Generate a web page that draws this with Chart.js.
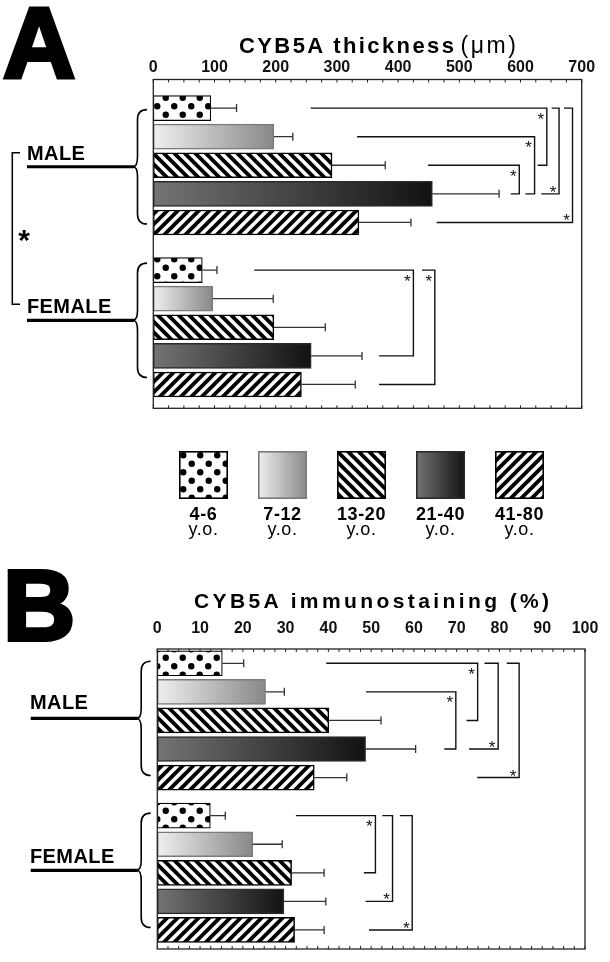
<!DOCTYPE html>
<html lang="en"><head><meta charset="utf-8"><title>CYB5A thickness and immunostaining</title>
<script src="https://cdn.jsdelivr.net/npm/chart.js@4.4.1/dist/chart.umd.min.js"></script>
<style>
html,body{margin:0;padding:0;background:#fff;}
#wrap{position:relative;width:610px;height:962px;overflow:hidden;background:#fff;}
#wrap canvas{position:absolute;left:0;}
#overlay{position:absolute;left:0;top:0;pointer-events:none;}
#overlay text{font-family:"Liberation Sans",Arial,Helvetica,sans-serif;fill:#000;}
</style></head>
<body><div id="wrap">
<canvas id="chartA" width="610" height="425" style="top:0"></canvas>
<canvas id="chartB" width="610" height="402" style="top:560px"></canvas>
<svg id="overlay" width="610" height="962" xmlns="http://www.w3.org/2000/svg">
 <text x="3" y="78" font-size="100" font-weight="bold" stroke="#000" stroke-width="4">A</text>
 <text x="3" y="640" font-size="100" font-weight="bold" stroke="#000" stroke-width="4">B</text>
 <text x="239" y="53" font-size="22" font-weight="bold" letter-spacing="2.4">CYB5A thickness<tspan dx="4" font-weight="normal" font-size="23" letter-spacing="2.6">(μm)</tspan></text>
 <text x="194" y="608" font-size="21" font-weight="bold" letter-spacing="3.4">CYB5A immunostaining (%)</text>
 <text x="24" y="250" font-size="30" font-weight="bold" text-anchor="middle">*</text>
 <g id="sexText"></g>
 <g id="legendText"></g>
</svg>
</div>
<script>
// ---------------- data ----------------
const ageGroups = ['4-6', '7-12', '13-20', '21-40', '41-80'];
const sexes = ['MALE', 'FEMALE'];

const thicknessMale      = [94, 197, 292, 456, 336];
const thicknessMaleErr   = [42, 31, 87, 109, 85];
const thicknessFemale    = [80, 97, 197, 258, 242];
const thicknessFemaleErr = [24, 99, 84, 83, 88];

const stainingMale      = [15.2, 25.3, 40.1, 48.7, 36.7];
const stainingMaleErr   = [5.0, 4.4, 12.2, 11.7, 7.6];
const stainingFemale    = [12.4, 22.3, 31.4, 29.6, 32.1];
const stainingFemaleErr = [3.5, 6.9, 7.6, 9.8, 6.9];

const thicknessTickLabels = ['0', '100', '200', '300', '400', '500', '600', '700'];
const stainingTickLabels  = ['0', '10', '20', '30', '40', '50', '60', '70', '80', '90', '100'];

// significance brackets (values in axis units)
const thicknessSig = [
  {sex: 'male', from: 0, to: 2, start: 257, end: 628, at: 643, star: 'top'},
  {sex: 'male', from: 1, to: 3, start: 333, end: 608, at: 623, star: 'top'},
  {sex: 'male', from: 2, to: 3, start: 449, end: 584, at: 598, star: 'top'},
  {sex: 'male', from: 0, to: 3, start: 651, end: 634, at: 663, star: 'bottom'},
  {sex: 'male', from: 0, to: 4, start: 671, end: 463, at: 685, star: 'bottom'},
  {sex: 'female', from: 0, to: 3, start: 165, end: 369, at: 425, star: 'top'},
  {sex: 'female', from: 0, to: 4, start: 439, end: 369, at: 460, star: 'top'}
];
const stainingSig = [
  {sex: 'male', from: 0, to: 2, start: 39.5, end: 72.3, at: 74.9, star: 'top'},
  {sex: 'male', from: 1, to: 3, start: 48.8, end: 67.1, at: 69.8, star: 'top'},
  {sex: 'male', from: 0, to: 3, start: 76.5, end: 72.9, at: 79.7, star: 'bottom'},
  {sex: 'male', from: 0, to: 4, start: 81.7, end: 74.8, at: 84.6, star: 'bottom'},
  {sex: 'female', from: 0, to: 2, start: 32.4, end: 48.3, at: 51.0, star: 'top'},
  {sex: 'female', from: 0, to: 3, start: 52.6, end: 48.7, at: 55.0, star: 'bottom'},
  {sex: 'female', from: 0, to: 4, start: 56.7, end: 49.5, at: 59.6, star: 'bottom'}
];

// ---------------- layout / style ----------------
const layoutA = {n: 69, male: [6, 12, 18, 24, 30], female: [40, 46, 52, 58, 64]};
const layoutB = {n: 63, male: [3, 9, 15, 21, 27], female: [35, 41, 47, 53, 59]};

const groupFill = ['dots', 'gradLight', 'stripeBack', 'gradDark', 'stripeFwd'];
const groupBorder = ['#000', '#7a7a7a', '#000', '#2a2a2a', '#000'];
const groupBorderWidth = [1.2, 1.5, 1.5, 1.5, 1.5];
const gradStops = {gradLight: ['#efefef', '#888888'], gradDark: ['#747474', '#121212']};

function makeTile(kind) {
  const c = document.createElement('canvas');
  const g = c.getContext('2d');
  if (kind === 'dots') {
    c.width = c.height = 17;
    g.fillStyle = '#fff'; g.fillRect(0, 0, 17, 17);
    g.fillStyle = '#000';
    [[4.25, 4.25], [12.75, 12.75]].forEach(([x, y]) => { g.beginPath(); g.arc(x, y, 3.2, 0, Math.PI * 2); g.fill(); });
  } else {
    const s = 21;
    c.width = c.height = s;
    g.fillStyle = '#fff'; g.fillRect(0, 0, s, s);
    g.strokeStyle = '#000'; g.lineWidth = 3.8; g.beginPath();
    for (let k = -2; k <= 2; k++) {
      const o = k * 10.5;
      if (kind === 'stripeBack') { g.moveTo(o - 2, -2); g.lineTo(o + s + 2, s + 2); }
      else { g.moveTo(o - 2, s + 2); g.lineTo(o + s + 2, -2); }
    }
    g.stroke();
  }
  return c;
}
const tiles = {dots: makeTile('dots'), stripeBack: makeTile('stripeBack'), stripeFwd: makeTile('stripeFwd')};

function fillFor(i, c) {
  const kind = groupFill[i];
  const chart = c.chart;
  if (tiles[kind]) {
    chart.$pat = chart.$pat || {};
    if (!chart.$pat[kind]) chart.$pat[kind] = chart.ctx.createPattern(tiles[kind], 'repeat');
    return chart.$pat[kind];
  }
  const xs = chart.scales && chart.scales.x;
  if (c.type !== 'data' || !xs || !c.parsed || c.parsed.x == null) return gradStops[kind][1];
  const x0 = xs.getPixelForValue(0), x1 = xs.getPixelForValue(c.parsed.x);
  const g = chart.ctx.createLinearGradient(x0, 0, x1, 0);
  g.addColorStop(0, gradStops[kind][0]);
  g.addColorStop(1, gradStops[kind][1]);
  return g;
}

function buildDatasets(male, maleErr, female, femaleErr, layout) {
  const len = layout.n + 1;
  return ageGroups.map((g, i) => {
    const data = new Array(len).fill(null), errors = new Array(len).fill(null);
    data[layout.male[i]] = male[i]; errors[layout.male[i]] = maleErr[i];
    data[layout.female[i]] = female[i]; errors[layout.female[i]] = femaleErr[i];
    return {
      label: g + ' y.o.', data, errors,
      backgroundColor: c => fillFor(i, c),
      borderColor: groupBorder[i], borderWidth: groupBorderWidth[i], borderSkipped: false,
      grouped: false, barThickness: 25
    };
  });
}

function annotPlugin(cfg) {
  return {
    id: 'annot',
    afterDatasetsDraw(chart) {
      const {ctx, chartArea: a, scales: {x, y}} = chart;
      const L = cfg.layout;
      ctx.save();
      // error bars
      ctx.strokeStyle = '#333'; ctx.lineWidth = 1.3;
      chart.data.datasets.forEach((ds, di) => {
        const meta = chart.getDatasetMeta(di);
        meta.data.forEach((el, i) => {
          const v = ds.data[i];
          if (v == null) return;
          const x0 = x.getPixelForValue(v), x1 = x.getPixelForValue(v + ds.errors[i]);
          ctx.beginPath();
          ctx.moveTo(x0, el.y); ctx.lineTo(x1, el.y);
          ctx.moveTo(x1, el.y - 4); ctx.lineTo(x1, el.y + 4);
          ctx.stroke();
        });
      });
      // significance brackets
      ctx.strokeStyle = '#111'; ctx.lineWidth = 1.4; ctx.fillStyle = '#111';
      ctx.font = '17px "Liberation Sans", Arial, sans-serif';
      ctx.textAlign = 'center'; ctx.textBaseline = 'alphabetic';
      cfg.sig.forEach(b => {
        const ya = y.getPixelForValue(L[b.sex][b.from]);
        const yb = y.getPixelForValue(L[b.sex][b.to]);
        const xv = x.getPixelForValue(b.at);
        ctx.beginPath();
        ctx.moveTo(x.getPixelForValue(b.start), ya);
        ctx.lineTo(xv, ya); ctx.lineTo(xv, yb);
        ctx.lineTo(x.getPixelForValue(b.end), yb);
        ctx.stroke();
        const sy = b.star === 'top' ? ya + 7 : yb - 5.5;
        ctx.fillText('*', xv - 6, sy + 9.5);
      });
      // frame + inward ticks
      ctx.strokeStyle = '#222'; ctx.lineWidth = 1.3;
      ctx.strokeRect(a.left, a.top, a.right - a.left, a.bottom - a.top);
      ctx.lineWidth = 1; ctx.beginPath();
      x.ticks.forEach(t => {
        const px = x.getPixelForValue(t.value);
        ctx.moveTo(px, a.top); ctx.lineTo(px, a.top + 3);
        ctx.moveTo(px, a.bottom); ctx.lineTo(px, a.bottom - 3);
      });
      ctx.stroke();
      // left braces and sex lines
      ctx.strokeStyle = '#000';
      const tips = {};
      cfg.braces.forEach(br => {
        const ps = L[br.sex].map(s => y.getPixelForValue(s));
        const y1 = ps[0] + br.shift, y2 = ps[ps.length - 1] + br.shift, ym = (y1 + y2) / 2;
        tips[br.sex] = ym;
        const xl = cfg.braceTip, xm = cfg.braceTip + 4.5, xr = cfg.braceTip + 14, r = 10;
        ctx.lineWidth = 1.6; ctx.beginPath();
        ctx.moveTo(xr, y1);
        ctx.quadraticCurveTo(xm, y1, xm, y1 + r);
        ctx.lineTo(xm, ym - r);
        ctx.quadraticCurveTo(xm, ym, xl, ym);
        ctx.quadraticCurveTo(xm, ym, xm, ym + r);
        ctx.lineTo(xm, y2 - r);
        ctx.quadraticCurveTo(xm, y2, xr, y2);
        ctx.stroke();
        ctx.lineWidth = 3.2; ctx.beginPath();
        ctx.moveTo(cfg.lineStart, ym); ctx.lineTo(xl + 1, ym); ctx.stroke();
      });
      if (cfg.connector) {
        const t = tips.male - 14, btm = tips.female - 16;
        ctx.lineWidth = 1.5; ctx.beginPath();
        ctx.moveTo(20, t); ctx.lineTo(12.3, t); ctx.lineTo(12.3, btm); ctx.lineTo(20, btm);
        ctx.stroke();
      }
      ctx.restore();
    }
  };
}

function makeChart(id, datasets, cfg) {
  const labels = new Array(cfg.layout.n + 1).fill('');
  return new Chart(document.getElementById(id), {
    type: 'bar',
    data: {labels, datasets},
    options: {
      indexAxis: 'y', responsive: false, animation: false, events: [],
      layout: {padding: cfg.padding},
      plugins: {legend: {display: false}, tooltip: {enabled: false}, title: {display: false}},
      scales: {
        x: {
          type: 'linear', position: 'top', min: 0, max: cfg.max,
          grid: {display: false, drawTicks: false}, border: {display: false},
          ticks: {
            stepSize: cfg.step, autoSkip: false, maxRotation: 0, minRotation: 0,
            padding: cfg.tickPad, color: '#111',
            font: {family: '"Liberation Sans", Arial, sans-serif', size: 16, weight: 'bold'},
            callback: v => { const t = cfg.tickLabels.find(s => Math.abs(Number(s) - v) < 1e-6); return t === undefined ? '' : t; }
          }
        },
        y: {type: 'category', display: false, offset: false, grid: {display: false}}
      }
    },
    plugins: [annotPlugin(cfg)]
  });
}

makeChart('chartA', buildDatasets(thicknessMale, thicknessMaleErr, thicknessFemale, thicknessFemaleErr, layoutA), {
  layout: layoutA, max: 700, step: 25, tickLabels: thicknessTickLabels, tickPad: 2,
  padding: {left: 153.3, right: 28.3, top: 56.3, bottom: 16.7},
  sig: thicknessSig, braceTip: 133, lineStart: 27, connector: true,
  braces: [{sex: 'male', shift: 1.5}, {sex: 'female', shift: -7}]
});
makeChart('chartB', buildDatasets(stainingMale, stainingMaleErr, stainingFemale, stainingFemaleErr, layoutB), {
  layout: layoutB, max: 100, step: 2.5, tickLabels: stainingTickLabels, tickPad: 11,
  padding: {left: 157.3, right: 25, top: 47.8, bottom: 13},
  sig: stainingSig, braceTip: 136.7, lineStart: 30.7, connector: false,
  braces: [{sex: 'male', shift: -2}, {sex: 'female', shift: -2.5}]
});

// ---------------- text labels (sex) ----------------
const NS = 'http://www.w3.org/2000/svg';
function svgText(parent, str, attrs) {
  const t = document.createElementNS(NS, 'text');
  for (const k in attrs) t.setAttribute(k, attrs[k]);
  t.textContent = str;
  parent.appendChild(t);
}
const sexG = document.getElementById('sexText');
const sexTextPos = [[[27, 160], [27, 313]], [[30, 709], [30, 862.7]]];
sexTextPos.forEach(panel => sexes.forEach((s, i) =>
  svgText(sexG, s, {x: panel[i][0], y: panel[i][1], 'font-size': 20, 'font-weight': 'bold', 'letter-spacing': 0.4})));

// ---------------- legend ----------------
const legendX = [179, 258, 337, 416, 495], legendY = 451, swW = 49, swH = 48;
const wrap = document.getElementById('wrap');
const legG = document.getElementById('legendText');
ageGroups.forEach((g, i) => {
  const c = document.createElement('canvas');
  c.width = swW; c.height = swH;
  c.style.left = legendX[i] + 'px'; c.style.top = legendY + 'px';
  wrap.insertBefore(c, document.getElementById('overlay'));
  const x = c.getContext('2d');
  const kind = groupFill[i];
  if (tiles[kind]) x.fillStyle = x.createPattern(tiles[kind], 'repeat');
  else { const gr = x.createLinearGradient(0, 0, swW, 0); gr.addColorStop(0, gradStops[kind][0]); gr.addColorStop(1, gradStops[kind][1]); x.fillStyle = gr; }
  x.fillRect(0, 0, swW, swH);
  x.strokeStyle = groupBorder[i]; x.lineWidth = 1.6;
  x.strokeRect(0.8, 0.8, swW - 1.6, swH - 1.6);
  const cx = legendX[i] + swW / 2;
  svgText(legG, g, {x: cx, y: 520, 'font-size': 18, 'font-weight': 'bold', 'text-anchor': 'middle', 'letter-spacing': 0.6});
  svgText(legG, 'y.o.', {x: cx, y: 535, 'font-size': 18, 'text-anchor': 'middle', 'letter-spacing': 0.6});
});
</script>
</body></html>
